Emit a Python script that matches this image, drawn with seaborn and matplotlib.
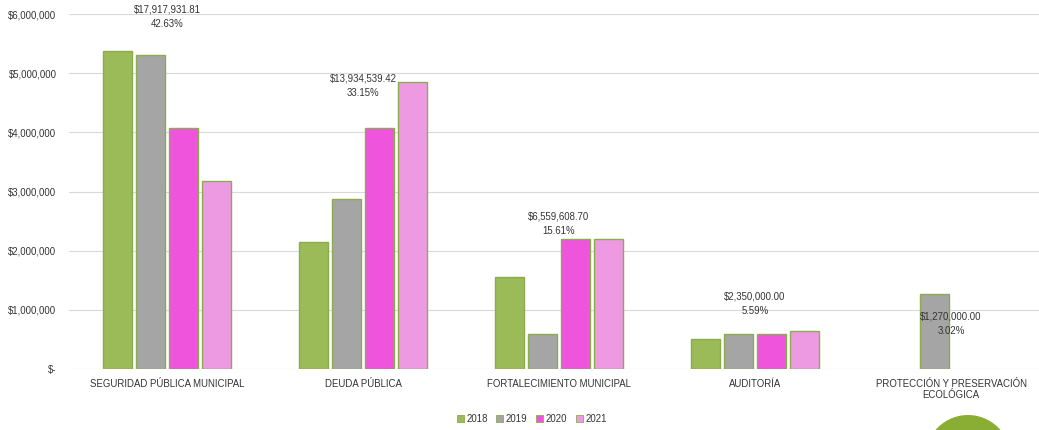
import numpy as np
import pandas as pd
import seaborn as sns
import matplotlib.pyplot as plt
from matplotlib.patches import Ellipse, Patch
from matplotlib.ticker import FuncFormatter

sns.set_theme(style="white")
plt.rcParams['font.family'] = ['Liberation Sans', 'DejaVu Sans']

# Data
categories = ["SEGURIDAD PÚBLICA MUNICIPAL", "DEUDA PÚBLICA", "FORTALECIMIENTO MUNICIPAL",
              "AUDITORÍA", "PROTECCIÓN Y PRESERVACIÓN\nECOLÓGICA"]
years = ["2018", "2019", "2020", "2021"]
v2018 = [5370000, 2145000, 1550000, 500000, np.nan]
v2019 = [5300000, 2870000, 600000, 600000, 1270000]
v2020 = [4070000, 4070000, 2205000, 600000, np.nan]
v2021 = [3180000, 4850000, 2205000, 650000, np.nan]
totals = ["$17,917,931.81", "$13,934,539.42", "$6,559,608.70", "$2,350,000.00", "$1,270,000.00"]
shares = ["42.63%", "33.15%", "15.61%", "5.59%", "3.02%"]
label_y = [5960000, 4780000, 2450000, 1100000, 760000]

colors = ["#9BBB59", "#A5A5A5", "#EE55DC", "#EE9AE3"]
edge = "#8AAB4E"
txt = "#333333"

rows = []
for yr, vals in zip(years, [v2018, v2019, v2020, v2021]):
    for c, v in zip(categories, vals):
        rows.append({"cat": c, "year": yr, "value": v})
df = pd.DataFrame(rows).dropna()

fig = plt.figure(figsize=(10.39, 4.30), dpi=100)
ax = fig.add_axes([69 / 1039, 61 / 430, 980 / 1039, 355 / 430])

sns.barplot(data=df, x="cat", y="value", hue="year", order=categories, hue_order=years,
            palette=colors, saturation=1, width=0.675, gap=0.1,
            edgecolor=edge, linewidth=1, ax=ax, legend=False, zorder=3)

ax.set_ylim(0, 6000000)
ax.set_yticks(np.arange(0, 6000001, 1000000))
ax.yaxis.set_major_formatter(FuncFormatter(lambda v, p: "$-" if v == 0 else f"${v:,.0f}"))
ax.grid(axis="y", color="#D9D9D9", linewidth=0.8, zorder=0)
ax.set_axisbelow(True)
for s in ax.spines.values():
    s.set_visible(False)
ax.set_xlabel("")
ax.set_ylabel("")
ax.tick_params(axis="y", length=0, pad=9, labelsize=6.9, labelcolor=txt)
ax.tick_params(axis="x", length=0, pad=7, labelsize=6.9, labelcolor=txt)

for i in range(len(categories)):
    ax.text(i, label_y[i], totals[i] + "\n" + shares[i], ha="center", va="center",
            fontsize=6.9, color=txt, linespacing=1.55, zorder=5)

handles = [Patch(facecolor=c, edgecolor=edge, linewidth=0.6) for c in colors]
fig.legend(handles, years, loc="center", bbox_to_anchor=(532 / 1039, 1 - 419 / 430), ncol=4,
           frameon=False, fontsize=6.9, handlelength=0.7, handleheight=0.7,
           handletextpad=0.3, columnspacing=0.9, labelcolor=txt)

# decorative green circle at the bottom right
r = 42.7
fig.add_artist(Ellipse((968 / 1039, (430 - 415 - r) / 430), 2 * r / 1039, 2 * r / 430,
                       transform=fig.transFigure, facecolor="#8AAE34", edgecolor="none"))

fig.savefig("out.png", dpi=100)
